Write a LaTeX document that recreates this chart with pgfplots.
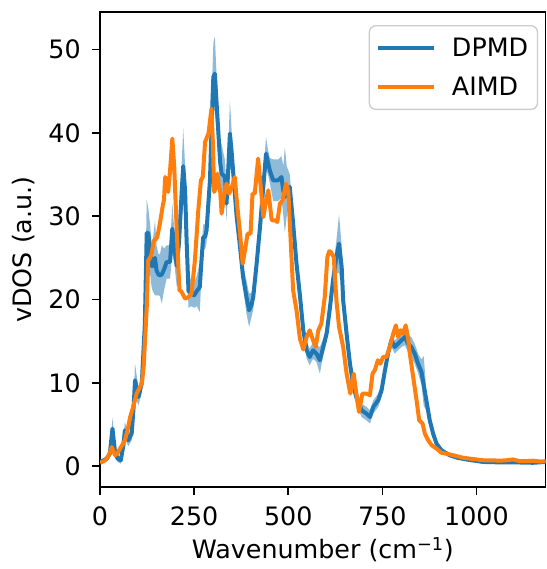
\documentclass[border=0pt]{standalone}
\usepackage{fontspec}
\setmainfont{DejaVu Sans}
\usepackage{pgfplots}
\pgfplotsset{compat=1.18}
\usepackage{pgfplotstable}
\usepgfplotslibrary{fillbetween}
\definecolor{c1}{HTML}{1F77B4}
\definecolor{c2}{HTML}{FF7F0E}
\pgfplotstableread{
x y lo hi
0 0.5 0.3 0.7
10 0.7 0.4 1.0
18 0.9 0.6 1.2
26 1.5 1.0 2.0
33 4.5 3.2 5.8
40 1.6 1.0 2.2
47 0.9 0.5 1.3
55 0.7 0.3 1.1
62 2.5 1.7 3.3
66 4.3 3.3 5.3
75 3.1 2.4 3.8
84 3.9 3.1 4.7
89 7.0 5.8 8.2
93 10.3 8.3 12.3
102 8.3 7.3 9.3
111 10.0 8.8 11.2
119 17.0 15.5 18.5
124 28.0 24.0 32.0
128 28.0 25.0 31.0
133 26.0 23.0 29.0
137 24.0 21.5 26.5
140 24.0 21.0 27.0
146 25.0 20.5 29.5
150 23.5 20.5 26.5
155 23.0 20.5 25.5
159 22.9 20.4 25.4
164 23.0 19.5 26.5
170 23.6 21.1 26.1
177 24.5 22.5 26.5
186 24.5 22.5 26.5
192 28.5 25.5 31.5
198 26.0 24.0 28.0
204 24.0 21.5 26.5
210 27.0 24.5 29.5
217 33.0 29.5 36.5
221 36.0 31.5 40.5
226 33.0 30.0 36.0
230 27.0 24.5 29.5
235 21.0 19.0 23.0
243 20.7 19.2 22.2
250 20.5 19.0 22.0
257 21.0 19.2 22.8
265 21.5 18.5 24.5
270 25.0 23.5 26.5
274 27.5 26.0 29.0
279 27.5 26.0 29.0
283 28.3 26.8 29.8
292 34.3 32.3 36.3
298 43.0 39.5 46.5
301 46.7 42.7 50.7
305 47.1 42.6 51.6
309 44.0 40.5 47.5
314 40.3 37.3 43.3
319 36.5 34.0 39.0
323 35.1 31.6 38.6
332 34.7 32.7 36.7
336 31.5 29.5 33.5
341 36.0 33.5 38.5
345 39.9 35.9 43.9
350 37.5 35.0 40.0
354 35.1 33.6 36.6
363 29.9 28.4 31.4
372 26.3 25.1 27.5
380 22.7 21.5 23.9
389 20.3 18.3 22.3
396 18.7 16.7 20.7
402 19.3 17.8 20.8
407 20.3 18.8 21.8
416 24.3 22.8 25.8
425 28.7 27.2 30.2
433 33.1 31.6 34.6
441 37.5 35.5 39.5
446 36.5 35.0 38.0
451 35.5 34.0 37.0
460 34.3 31.8 36.8
466 34.3 31.8 36.8
473 34.3 31.8 36.8
482 34.7 32.2 37.2
487 33.0 30.0 36.0
491 32.3 28.0 38.3
496 33.0 30.0 36.0
504 33.5 32.0 35.0
513 29.1 28.1 30.1
522 24.3 23.3 25.3
531 20.5 19.5 21.5
540 16.3 15.3 17.3
549 13.9 12.9 14.9
557 13.1 12.1 14.1
566 13.9 12.9 14.9
575 13.5 12.5 14.5
584 12.7 11.1 14.3
593 14.3 13.3 15.3
602 15.9 14.9 16.9
611 19.1 17.9 20.3
619 22.3 20.8 23.8
628 25.1 23.1 27.1
635 26.7 23.2 30.2
642 23.9 21.4 26.4
646 19.9 18.4 21.4
655 15.9 14.9 16.9
664 12.3 11.3 13.3
672 9.9 8.9 10.9
681 8.3 7.3 9.3
695 6.7 5.9 7.5
708 6.3 5.5 7.1
717 5.9 5.1 6.7
726 7.1 6.3 7.9
739 7.9 7.1 8.7
748 9.1 8.3 9.9
757 11.5 10.7 12.3
765 13.5 12.7 14.3
774 15.1 14.3 15.9
783 14.3 13.5 15.1
792 14.7 13.9 15.5
801 15.1 14.3 15.9
810 15.5 14.5 16.5
818 14.7 13.7 15.7
827 14.3 13.1 15.5
836 13.5 12.3 14.7
845 12.3 11.1 13.5
854 11.3 9.8 12.8
860 9.7 7.2 13.2
867 7.9 6.7 9.1
876 5.5 4.7 6.3
885 3.9 3.3 4.5
894 2.7 2.3 3.1
907 1.9 1.6 2.2
929 1.3 1.1 1.5
950 1.0 0.8 1.2
973 0.8 0.65 0.95
1018 0.5 0.4 0.6
1062 0.45 0.35 0.55
1100 0.45 0.35 0.55
1150 0.4 0.3 0.5
1184 0.5 0.4 0.6
}\dpmd
\pgfplotstableread{
x y
0 0.4
10 0.6
18 0.9
25 1.5
31 2.3
40 1.3
47 1.6
53 2.1
60 2.6
66 3.1
73 4.3
80 5.9
88 7.1
97 8.7
104 9.3
111 9.9
116 12.0
119 14.7
124 19.0
128 24.7
133 25.0
137 25.5
143 27.1
148 27.2
152 27.5
159 29.1
166 31.1
170 32.0
173 34.7
177 34.0
181 32.9
186 35.5
192 39.3
197 36.0
204 27.9
208 24.0
211 21.1
215 21.0
219 20.7
226 20.1
235 20.3
243 20.7
252 24.7
261 30.7
268 34.3
273 34.7
279 38.9
288 39.9
296 42.9
300 38.5
303 32.9
308 33.5
312 35.1
316 33.5
319 33.1
323 30.3
329 32.3
336 33.9
343 32.7
350 33.5
358 34.7
364 31.5
372 27.9
379 24.3
385 25.9
392 27.9
400 27.9
405 32.7
411 32.7
420 36.9
427 33.5
434 29.9
441 31.9
447 33.1
456 29.5
465 29.5
471 29.3
478 31.5
485 31.9
494 33.9
500 33.1
506 27.5
513 21.1
522 18.7
531 15.3
540 14.0
549 15.5
557 16.3
566 15.1
573 14.3
580 16.3
588 17.1
597 20.3
604 25.1
609 25.8
613 25.7
621 25.1
628 19.9
635 16.7
646 14.3
655 11.1
665 8.7
674 11.1
681 8.7
688 6.5
697 8.7
708 8.7
717 8.5
724 11.1
730 11.5
738 12.7
745 12.3
752 13.1
761 13.1
770 14.3
779 15.9
786 16.9
792 15.5
799 16.3
805 15.9
812 16.9
818 15.5
823 13.5
832 10.7
841 7.9
848 5.5
857 5.1
863 3.9
872 3.1
881 2.5
894 2.1
907 1.6
930 1.4
947 1.2
965 1.0
982 0.9
1000 0.8
1018 0.7
1040 0.7
1062 0.65
1080 0.7
1097 0.8
1115 0.6
1132 0.6
1150 0.65
1170 0.55
1184 0.6
}\aimd
\begin{document}
\begin{tikzpicture}
\begin{axis}[
  name=main,
  scale only axis,
  width=334pt, height=356pt,
  xmin=0, xmax=1184, ymin=-2.5, ymax=54.5,
  xtick={0,250,500,750,1000},
  ytick={0,10,20,30,40,50},
  tick pos=left,
  tick align=outside,
  major tick length=6pt,
  every tick/.style={black, line width=1.2pt},
  axis line style={line width=1.2pt},
  tick label style={font=\fontsize{19}{23}\selectfont},
  xticklabel style={yshift=-5pt},
  yticklabel style={xshift=-5pt},
  label style={font=\fontsize{19}{23}\selectfont},
  ylabel shift=3pt,
  xlabel shift=2pt,
  /pgf/number format/assume math mode=true,
  /pgf/number format/1000 sep={},
  scaled ticks=false,
  xlabel={Wavenumber (cm\textsuperscript{−1})},
  ylabel={vDOS (a.u.)},
  legend cell align=left,
  legend image code/.code={\draw[#1] (0pt,0pt) -- (42pt,0pt);},
  legend style={at={(1,1)}, anchor=north east, xshift=-5.6pt, yshift=-9.8pt,
    draw=black!20, line width=1pt, rounded corners=5pt,
    fill=white, fill opacity=0.8, text opacity=1,
    font=\fontsize{19}{23}\selectfont,
    inner xsep=5pt, inner ysep=7pt, row sep=10pt,
    /tikz/every odd column/.append style={column sep=10pt}},
]
\addplot[draw=none, name path=hi, forget plot] table[x=x, y=hi] {\dpmd};
\addplot[draw=none, name path=lo, forget plot] table[x=x, y=lo] {\dpmd};
\addplot[fill=c1, fill opacity=0.5, draw=none, forget plot] fill between[of=hi and lo];
\addplot[c1, line width=3pt, line join=round] table[x=x, y=y] {\dpmd};
\addlegendentry{DPMD}
\addplot[c2, line width=3pt, line join=round] table[x=x, y=y] {\aimd};
\addlegendentry{AIMD}
\end{axis}
\path (main.north east) ++(0,9pt);
\path (main.south west) ++(-75pt,-61.5pt);
\end{tikzpicture}
\end{document}
